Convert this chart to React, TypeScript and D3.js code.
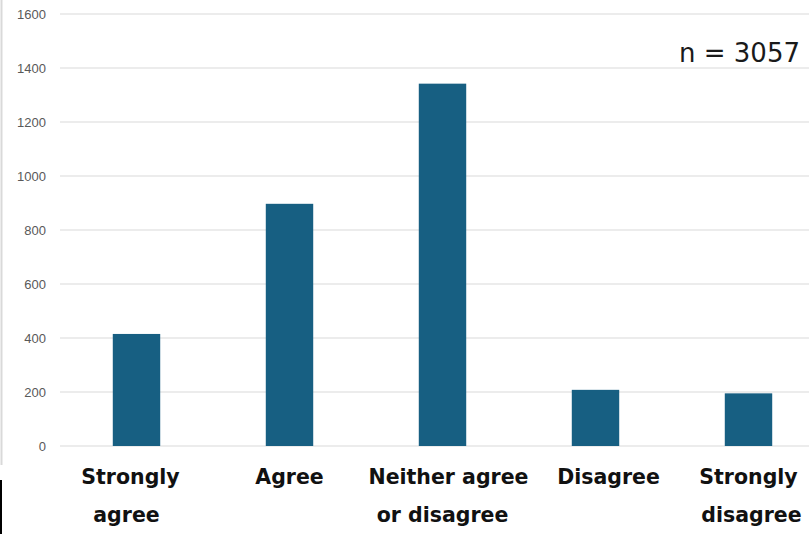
import * as d3 from "d3";

const categories = [["Strongly", "agree"], ["Agree"], ["Neither agree", "or disagree"], ["Disagree"], ["Strongly", "disagree"]];
const counts = [415, 897, 1342, 208, 195];
const ticks = [0, 200, 400, 600, 800, 1000, 1200, 1400, 1600];
const labelShift = [[-6, -10], [0], [6, 0], [13], [0, 3]];

const W = 809;
const H = 534;
const margin = { top: 14, left: 60, bottom: 88 };

export default function App() {
  const x = d3.scaleBand<number>().domain(d3.range(counts.length)).range([margin.left, 825]).paddingInner(0.69).paddingOuter(0.345);
  const y = d3.scaleLinear().domain([0, 1600]).range([H - margin.bottom, margin.top]);
  return (
    <svg width={W} height={H} style={{ position: "fixed", left: 0, top: 0 }}>
      <rect width={W} height={H} fill="#fff" />
      <line x1={1.5} x2={1.5} y1={0} y2={465} stroke="#d9d9d9" strokeWidth={2} />
      <line x1={1} x2={1} y1={480} y2={534} stroke="#000" strokeWidth={2} />
      {ticks.map((t) => (
        <g key={t}>
          <line x1={margin.left} x2={W} y1={y(t)} y2={y(t)} stroke="#d9d9d9" strokeWidth={1.2} />
          <text x={46} y={y(t)} dy="0.35em" textAnchor="end" fontSize={13} fill="#595959" fontFamily="Liberation Sans, Arial">{t}</text>
        </g>
      ))}
      {counts.map((c, i) => (
        <rect key={i} x={x(i)} y={y(c)} width={x.bandwidth()} height={y(0) - y(c)} fill="#175f82" />
      ))}
      {categories.map((lines, i) => (
        <text key={i} textAnchor="middle" fontSize={20.5} fontWeight={700} fill="#111" fontFamily="DejaVu Sans">
          {lines.map((l, j) => (
            <tspan key={j} x={x(i)! + x.bandwidth() / 2 + labelShift[i][j]} y={484 + j * 38}>{l}</tspan>
          ))}
        </text>
      ))}
      <text x={800} y={62} textAnchor="end" fontSize={26} fill="#1a1a1a" fontFamily="DejaVu Sans">n = 3057</text>
    </svg>
  );
}
